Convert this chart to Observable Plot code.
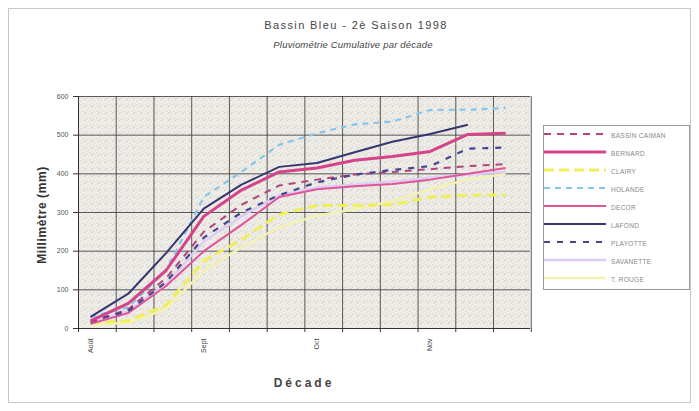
<!DOCTYPE html>
<html><head><meta charset="utf-8">
<script src="https://cdn.jsdelivr.net/npm/d3@7"></script>
<script src="https://cdn.jsdelivr.net/npm/@observablehq/plot@0.6"></script>
<style>
body{margin:0;background:#fff;font-family:"Liberation Sans",Arial,sans-serif;}
#wrap{position:relative;width:699px;height:411px;overflow:hidden;background:#fff;}
#wrap svg{position:absolute;left:0;top:0;}
.frameBox{position:absolute;left:8px;top:8px;width:681px;height:393px;border:1px solid #c8c8c8;}
.t1{position:absolute;left:0;width:712px;top:19px;text-align:center;font-size:11px;letter-spacing:1.4px;color:#444;}
.t2{position:absolute;left:0;width:706px;top:39px;text-align:center;font-size:9.5px;font-style:italic;letter-spacing:0.2px;color:#444;}
.xl{position:absolute;left:272px;width:64px;top:376px;text-align:center;font-size:12px;font-weight:bold;letter-spacing:3px;color:#444;}
.yl{position:absolute;left:-18px;top:208px;width:120px;text-align:center;font-size:12px;font-weight:bold;letter-spacing:0.6px;color:#333;transform:rotate(-90deg);}
.legend{position:absolute;left:543px;top:125px;width:145px;height:163px;border:1px solid #9a9a9a;background:#fff;}
.li{position:absolute;left:0;height:10px;width:145px;}
.li svg{position:absolute;left:4px;top:2px;}
.li span{position:absolute;left:67px;top:1px;font-size:6.5px;color:#888;letter-spacing:0.3px;white-space:nowrap;}
</style></head><body><div id="wrap"></div>
<script>
// categories (decades, index) and tick labels
const decades = [0,1,2,3,4,5,6,7,8,9,10,11];
const xTickIdx = [0,3,6,9];
const xTickLabels = ["Août","Sept","Oct","Nov"];
const yTicks = [0,100,200,300,400,500,600];
const seriesNames = ["BASSIN CAIMAN","BERNARD","CLAIRY","HOLANDE","DECOR","LAFOND","PLAYOTTE","SAVANETTE","T. ROUGE"];

// cumulative rainfall (mm) per series
const bassinCaiman = [15, 50, 130, 250, 320, 370, 385, 398, 405, 412, 420, 425];
const bernard      = [20, 65, 150, 290, 358, 405, 415, 435, 445, 458, 502, 505];
const clairy       = [15, 20, 60, 175, 230, 295, 318, 318, 320, 340, 345, 345];
const holande      = [30, 55, 150, 340, 405, 475, 505, 528, 535, 565, 566, 570];
const decor        = [12, 40, 110, 200, 268, 340, 360, 368, 374, 385, 400, 415];
const lafond       = [30, 90, 195, 310, 372, 418, 428, 456, 483, 503, 527];
const playotte     = [20, 45, 120, 235, 300, 345, 378, 398, 410, 420, 465, 468];
const savanette    = [15, 45, 115, 225, 290, 345, 365, 372, 380, 390, 398, 405];
const tRouge       = [10, 15, 50, 150, 210, 262, 292, 308, 330, 360, 385, 400];

const values = {"BASSIN CAIMAN":bassinCaiman,"BERNARD":bernard,"CLAIRY":clairy,"HOLANDE":holande,"DECOR":decor,"LAFOND":lafond,"PLAYOTTE":playotte,"SAVANETTE":savanette,"T. ROUGE":tRouge};
const style = {
  "BASSIN CAIMAN":{c:"#b0467e",w:2,d:"7,6"},
  "BERNARD":{c:"#d6438a",w:3,d:null},
  "CLAIRY":{c:"#f0ef5a",w:3,d:"10,5"},
  "HOLANDE":{c:"#86c6ea",w:2.2,d:"6,5"},
  "DECOR":{c:"#e0559a",w:2,d:null},
  "LAFOND":{c:"#35366f",w:2,d:null},
  "PLAYOTTE":{c:"#45468c",w:2.2,d:"6,7"},
  "SAVANETTE":{c:"#dccdf2",w:2.5,d:null},
  "T. ROUGE":{c:"#f3f2b2",w:2.5,d:null}
};
const drawOrder = ["T. ROUGE","SAVANETTE","CLAIRY","HOLANDE","DECOR","BASSIN CAIMAN","PLAYOTTE","BERNARD","LAFOND"];

const rows = seriesNames.flatMap(s => values[s].map((v,i) => ({s, x: decades[i], y: v})));
const gridX = d3.range(decades.length + 1).map(k => k - 0.32);

const plot = Plot.plot({
  width: 699, height: 411,
  marginTop: 96, marginBottom: 83, marginLeft: 78, marginRight: 169,
  style: {background: "transparent", fontFamily: "Liberation Sans, Arial, sans-serif"},
  x: {type: "linear", domain: [-0.32, 11.66]},
  y: {domain: [0, 600]},
  marks: [
    Plot.frame({fill: "url(#stip)", stroke: "none"}),
    Plot.gridX(gridX, {stroke: "#333", strokeOpacity: 0.8, strokeWidth: 1}),
    Plot.gridY(yTicks, {stroke: "#333", strokeOpacity: 0.8, strokeWidth: 1}),
    ...drawOrder.map(s => Plot.line(rows.filter(d => d.s === s), {
      x: "x", y: "y", stroke: style[s].c, strokeWidth: style[s].w,
      strokeDasharray: style[s].d, strokeLinejoin: "round", strokeLinecap: "butt"
    })),
    Plot.ruleY([0], {stroke: "#333"}),
    Plot.ruleX([-0.32], {stroke: "#333"}),
    Plot.axisY(yTicks, {tickSize: 5, tickPadding: 5, fontSize: 7, fill: "#555", stroke: "#333", label: null}),
    Plot.axisX(gridX, {tickSize: 4, tickFormat: () => "", stroke: "#333", label: null}),
    Plot.axisX(xTickIdx, {tickSize: 0, tickPadding: 10, tickRotate: -90, fontSize: 7, fill: "#444",
      tickFormat: (d) => xTickLabels[xTickIdx.indexOf(d)], label: null})
  ]
});

const svg = d3.select(plot);
const defs = svg.insert("defs", ":first-child");
const pat = defs.append("pattern").attr("id", "stip").attr("patternUnits", "userSpaceOnUse")
  .attr("width", 7).attr("height", 7);
pat.append("rect").attr("width", 7).attr("height", 7).attr("fill", "#f0eee9");
[[0,0,"#b5b1aa"],[3,2,"#cfcbc4"],[5,5,"#bdb9b2"],[1,4,"#d6d2cb"],[6,1,"#c7c3bc"],[2,6,"#c2beb7"]]
  .forEach(([x,y,c]) => pat.append("rect").attr("x", x).attr("y", y).attr("width", 1).attr("height", 1).attr("fill", c));

const wrap = document.getElementById("wrap");
wrap.innerHTML = `<div class="frameBox"></div>
<div class="t1">Bassin Bleu - 2è Saison 1998</div>
<div class="t2">Pluviométrie Cumulative par décade</div>
<div class="yl">Millimètre (mm)</div>
<div class="xl">Décade</div>`;
wrap.appendChild(plot);

const legend = document.createElement("div");
legend.className = "legend";
seriesNames.forEach((s, k) => {
  const it = document.createElement("div");
  it.className = "li";
  it.style.top = (5 + 18 * k) + "px";
  const st = style[s];
  it.innerHTML = `<svg width="62" height="6"><line x1="0" y1="3" x2="62" y2="3" stroke="${st.c}" stroke-width="${st.w}" ${st.d ? `stroke-dasharray="${st.d}"` : ""}/></svg><span>${s}</span>`;
  legend.appendChild(it);
});
wrap.appendChild(legend);
</script>
</body></html>
